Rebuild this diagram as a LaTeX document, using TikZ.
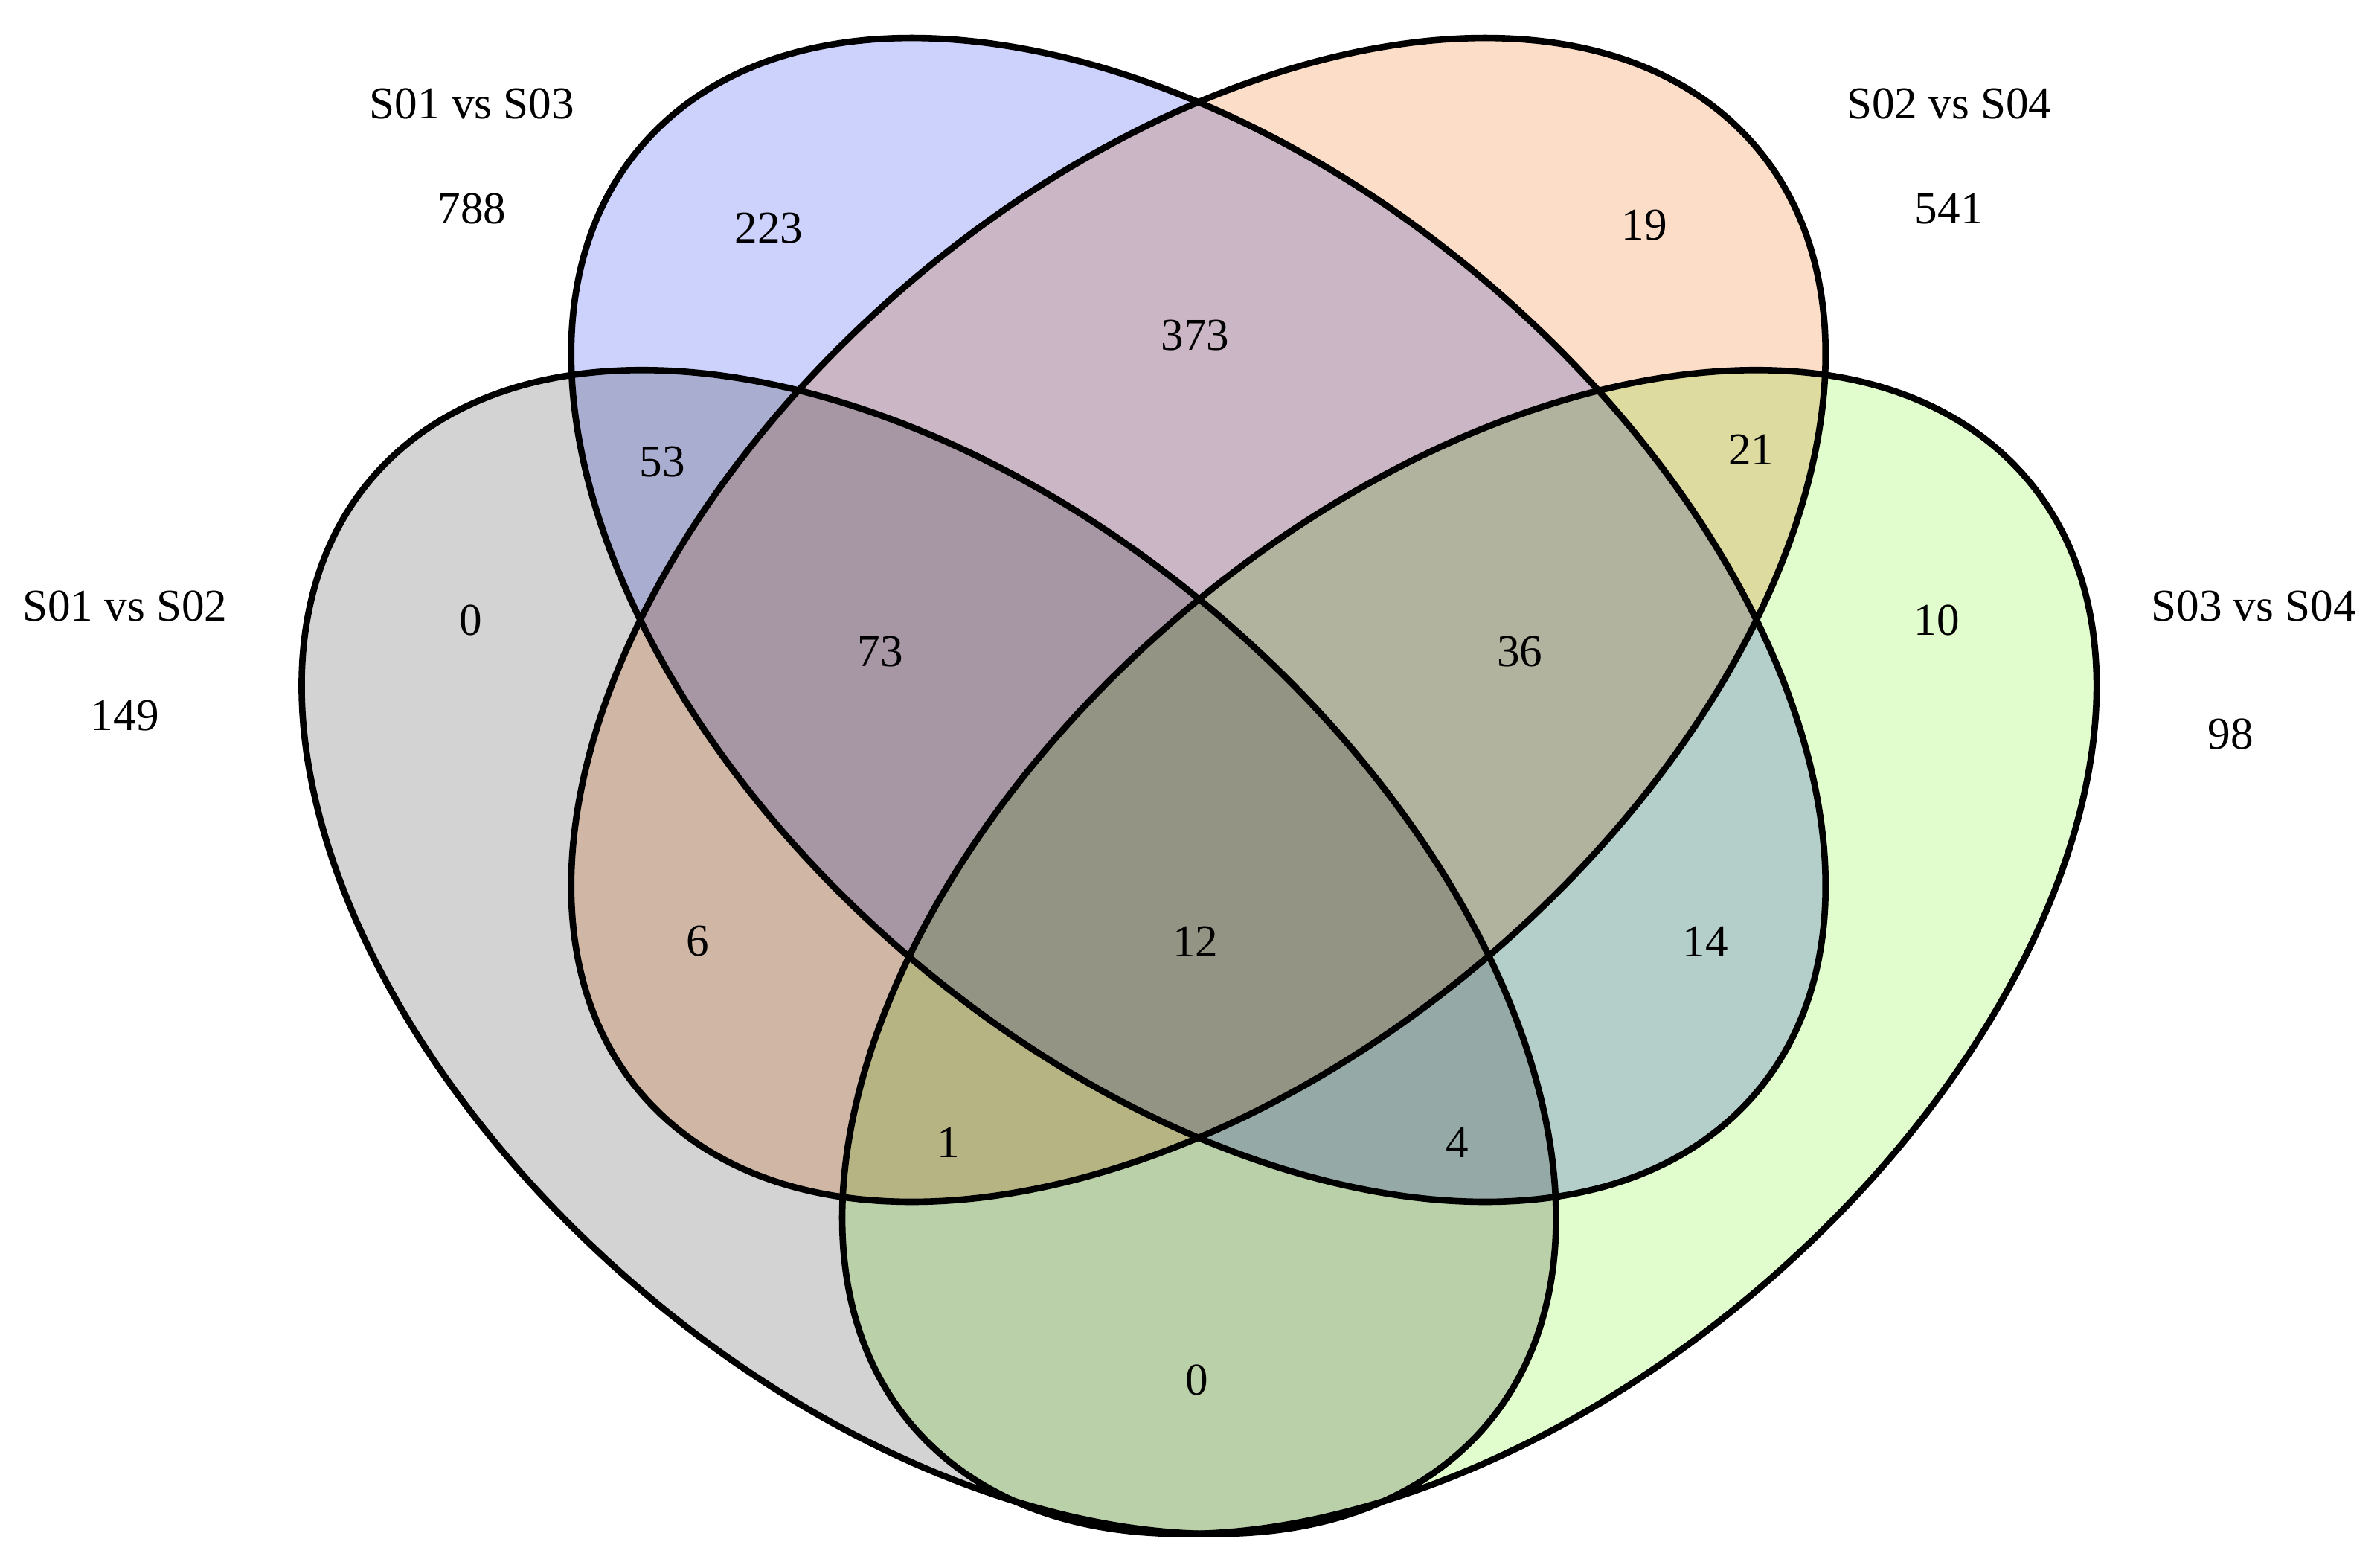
\documentclass[tikz,border=0pt]{standalone}
\usepackage{fontspec}
\setmainfont{Liberation Serif}
\begin{document}
\begin{tikzpicture}[x=0.02cm,y=-0.02cm,
  lab/.style={font=\fontsize{17}{20}\selectfont, inner sep=0pt},
  set/.style={xscale=497,yscale=461},
  edge/.style={line width=2.4pt, black}]
\useasboundingbox (0,0) rectangle (1563,1029);
\definecolor{cgray}{RGB}{211,211,211}
\definecolor{cblue}{RGB}{205,210,252}
\definecolor{corange}{RGB}{252,222,200}
\definecolor{cgreen}{RGB}{225,252,205}
% fills
\begin{scope}[blend mode=multiply]
\fill[cgray, shift={(610,625)}, set, rotate=-45] (0,0) ellipse [x radius=1, y radius=0.611];
\fill[cblue, shift={(787,407)}, set, rotate=-45] (0,0) ellipse [x radius=1, y radius=0.611];
\fill[corange, shift={(787,407)}, set, rotate=45] (0,0) ellipse [x radius=1, y radius=0.611];
\fill[cgreen, shift={(965,625)}, set, rotate=45] (0,0) ellipse [x radius=1, y radius=0.611];
\end{scope}
% outlines
\draw[edge, shift={(610,625)}, set, rotate=-45] (0,0) ellipse [x radius=1, y radius=0.611];
\draw[edge, shift={(787,407)}, set, rotate=-45] (0,0) ellipse [x radius=1, y radius=0.611];
\draw[edge, shift={(787,407)}, set, rotate=45] (0,0) ellipse [x radius=1, y radius=0.611];
\draw[edge, shift={(965,625)}, set, rotate=45] (0,0) ellipse [x radius=1, y radius=0.611];
% set labels
\node[lab] (t1) at (310,68) {S01 vs S03};
\node[lab] (n1) at (310,137) {788};
\node[lab] (t2) at (1280,68) {S02 vs S04};
\node[lab] (n2) at (1280,137) {541};
\node[lab] (t3) at (82,398) {S01 vs S02};
\node[lab] (n3) at (82,470) {149};
\node[lab] (t4) at (1480,398) {S03 vs S04};
\node[lab] (n4) at (1465,482) {98};
% region counts
\node[lab] (r1) at (505,150) {223};
\node[lab] (r2) at (1080,148) {19};
\node[lab] (r3) at (785,220) {373};
\node[lab] (r4) at (435,303) {53};
\node[lab] (r5) at (1150,295) {21};
\node[lab] (r6) at (309,407) {0};
\node[lab] (r7) at (1272,407) {10};
\node[lab] (r8) at (578,428) {73};
\node[lab] (r9) at (998,428) {36};
\node[lab] (r10) at (458,618) {6};
\node[lab] (r11) at (785,618) {12};
\node[lab] (r12) at (1120,618) {14};
\node[lab] (r13) at (623,750) {1};
\node[lab] (r14) at (957,750) {4};
\node[lab] (r15) at (786,906) {0};
\end{tikzpicture}
\end{document}
